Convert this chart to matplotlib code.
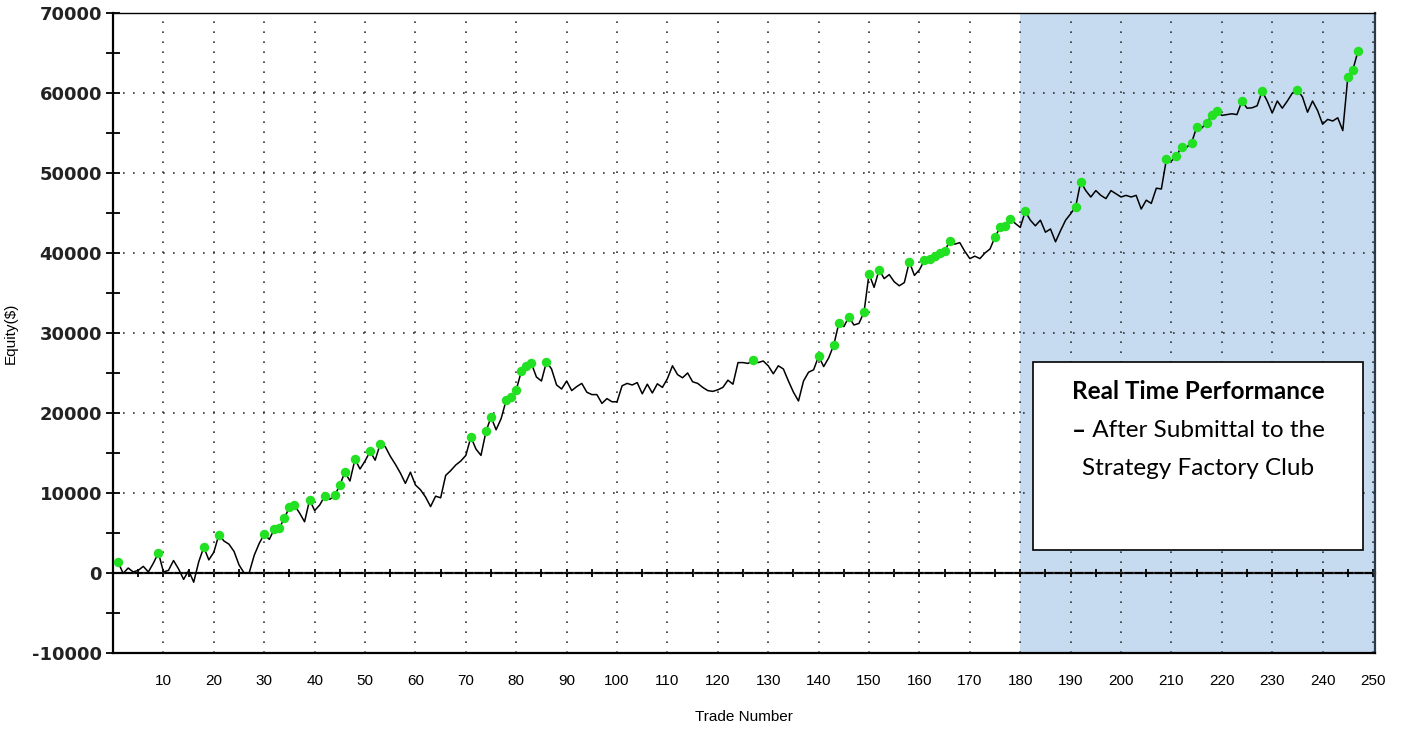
import numpy as np
import matplotlib
matplotlib.use("Agg")
import matplotlib.pyplot as plt
from matplotlib.ticker import MultipleLocator

# ---------------- data ----------------
equity = [
    1350, -50, 620, 130, 330, 830, 130, 1230, 2520, 130,
    330, 1560, 500, -800, 300, -1150, 1400, 3230, 1640, 2600,
    4800, 4000, 3600, 2700, 1000, 0, 0, 2200, 3700, 4850,
    4200, 5500, 5600, 6900, 8200, 8450, 7500, 6400, 9150, 7800,
    8500, 9600, 9200, 9700, 11000, 12600, 11500, 14200, 13000, 14000,
    15200, 14100, 16100, 15800, 14600, 13600, 12500, 11200, 12600, 11000,
    10400, 9500, 8300, 9600, 9400, 12200, 12800, 13500, 14000, 14700,
    17000, 15500, 14700, 17700, 19500, 17900, 19300, 21600, 22000, 22900,
    25200, 25900, 26200, 24500, 24000, 26400, 25500, 23500, 23000, 24000,
    22800, 23300, 23700, 22600, 22300, 22300, 21200, 21800, 21400, 21400,
    23400, 23700, 23500, 23800, 22400, 23600, 22500, 23650, 23200, 24300,
    25900, 24800, 24400, 25000, 23900, 23700, 23200, 22800, 22700, 22900,
    23200, 24100, 23600, 26300, 26300, 26200, 26600, 26300, 26500, 25900,
    24900, 25900, 25500, 24000, 22600, 21500, 24000, 25100, 25400, 27100,
    25800, 26900, 28500, 31200, 30800, 32000, 31000, 31200, 32600, 37400,
    35700, 37900, 36800, 37300, 36400, 35900, 36300, 38900, 37200, 37900,
    39100, 39300, 39600, 40000, 40200, 41500, 41100, 41300, 40200, 39300,
    39600, 39300, 40000, 40500, 42000, 43200, 43400, 44300, 43700, 43200,
    45200, 44100, 43400, 44100, 42600, 43000, 41400, 42800, 44100, 44900,
    45800, 48900, 47800, 47000, 47800, 47200, 46800, 47800, 47400, 47000,
    47200, 47000, 47200, 45500, 46600, 46200, 48100, 48000, 51700, 51500,
    52100, 53300, 53200, 53800, 55700, 55600, 56300, 57200, 57700, 57200,
    57300, 57400, 57300, 59000, 58100, 58150, 58400, 60200, 59000, 57500,
    59000, 58100, 59000, 60000, 60400, 59500, 57600, 59000, 57800, 56100,
    56700, 56500, 56900, 55300, 62000, 62900, 65200,
]
trades = np.arange(1, len(equity) + 1)
real_time_start = 180
x_ticks = list(range(10, 251, 10))
y_ticks = list(range(-10000, 70001, 10000))
box_title = "Real Time Performance"
box_dash = "\u2013"
box_line2 = " After Submittal to the"
box_line3 = "Strategy Factory Club"

# ---------------- figure ----------------
fig = plt.figure(figsize=(14.08, 7.30), dpi=100)
ax = fig.add_axes([0.0803, 0.1055, 0.8963, 0.8767])
ax.set_xlim(0, 250.4)
ax.set_ylim(-10000, 70000)

eq = np.array(equity, dtype=float)
prev_max = np.maximum.accumulate(np.r_[0.0, eq[:-1]])
is_high = eq > prev_max

# shaded real-time region
ax.axvspan(real_time_start, 250.4, color="#c6dbef", zorder=0, lw=0)

# grid
ax.set_xticks(x_ticks)
ax.set_yticks(y_ticks)
ax.grid(True, which="major", color="#333333", lw=1.2)
for gl in ax.get_xgridlines() + ax.get_ygridlines():
    gl.set_dashes((1, 5))
ax.set_axisbelow(True)

# zero line via secondary axis with ticks
sec = ax.secondary_xaxis(0.125)
sec.spines["bottom"].set_linewidth(1.6)
sec.xaxis.set_major_locator(MultipleLocator(5))
sec.tick_params(axis="x", direction="inout", length=6, width=1.3, labelbottom=False)

# equity curve
ax.plot(trades, eq, color="black", lw=1.1, zorder=3)
ax.plot(trades[is_high], eq[is_high], "o", color="#22e022", ms=6.8, mec="none", zorder=4)

# axes styling
for s in ["left", "bottom"]:
    ax.spines[s].set_linewidth(1.6)
ax.spines["top"].set_linewidth(1.0)
ax.spines["right"].set_linewidth(1.6)
ax.spines["right"].set_color("#2a3a4a")

ax.yaxis.set_minor_locator(MultipleLocator(5000))
ax.tick_params(axis="y", which="both", direction="inout", length=10, width=1.3, pad=3)
ax.tick_params(axis="x", which="both", length=0, pad=15)
ax.set_xticklabels([str(v) for v in x_ticks], fontsize=11, family="Liberation Sans")
ax.set_yticklabels([str(v) for v in y_ticks], fontsize=13, family="DejaVu Sans",
                   fontweight="bold", color="#222222")

ax.set_xlabel("Trade Number", fontsize=11, family="Liberation Sans", labelpad=16)
ax.set_ylabel("Equity($)", fontsize=11, family="Liberation Sans", labelpad=10)

# text box
bx0, by0, bx1, by1 = 0.729, 0.161, 0.9905, 0.4547
rect = plt.Rectangle((bx0, by0), bx1 - bx0, by1 - by0, transform=ax.transAxes,
                     facecolor="white", edgecolor="black", lw=1.2, zorder=5)
ax.add_patch(rect)
cx = (bx0 + bx1) / 2
fs = 17.5
ax.text(cx, 0.408, box_title, transform=ax.transAxes, ha="center", va="center",
        fontsize=fs, fontweight="bold", family="Lato", zorder=6)
t2 = ax.text(cx + 0.006, 0.347, box_line2, transform=ax.transAxes, ha="center", va="center",
             fontsize=fs, family="Lato", zorder=6)
fig.canvas.draw()
bb = t2.get_window_extent()
x_left = ax.transAxes.inverted().transform((bb.x0, bb.y0))[0]
ax.text(x_left, 0.347, box_dash, transform=ax.transAxes, ha="right", va="center",
        fontsize=fs, fontweight="bold", family="Lato", zorder=6)
ax.text(cx, 0.289, box_line3, transform=ax.transAxes, ha="center", va="center",
        fontsize=fs, family="Lato", zorder=6)

fig.savefig("out.png", dpi=100)
